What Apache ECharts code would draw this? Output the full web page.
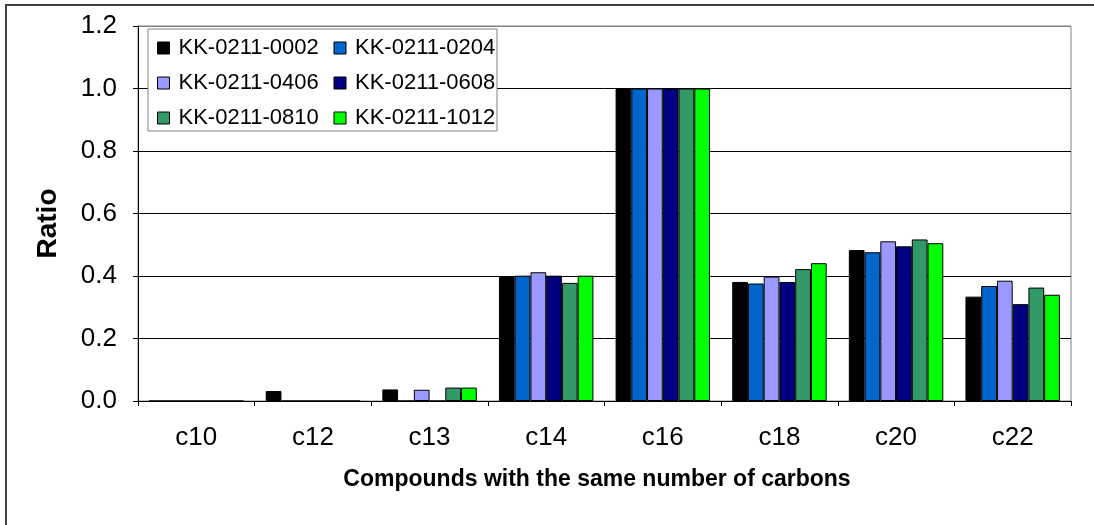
<!DOCTYPE html>
<html>
<head>
<meta charset="utf-8">
<script src="https://cdn.jsdelivr.net/npm/echarts@6/dist/echarts.min.js"></script>
<style>
html,body{margin:0;padding:0;background:#fff;}
#chart{width:1094px;height:525px;}
</style>
</head>
<body>
<div id="chart"></div>
<script>
const categories = ['c10', 'c12', 'c13', 'c14', 'c16', 'c18', 'c20', 'c22'];
const seriesNames = ['KK-0211-0002', 'KK-0211-0204', 'KK-0211-0406', 'KK-0211-0608', 'KK-0211-0810', 'KK-0211-1012'];
const s0002 = [0, 0.032, 0.037, 0.397, 1.0, 0.381, 0.483, 0.334];
const s0204 = [0, 0, 0, 0.401, 1.0, 0.376, 0.476, 0.368];
const s0406 = [0, 0, 0.036, 0.412, 1.0, 0.398, 0.511, 0.385];
const s0608 = [0, 0, 0, 0.401, 1.0, 0.381, 0.495, 0.310];
const s0810 = [0, 0, 0.043, 0.378, 1.0, 0.422, 0.517, 0.363];
const s1012 = [0, 0, 0.043, 0.401, 1.0, 0.441, 0.505, 0.340];
const yTicks = [0, 0.2, 0.4, 0.6, 0.8, 1.0, 1.2];

const seriesData = [s0002, s0204, s0406, s0608, s0810, s1012];
const colors = ['#000000', '#0066CC', '#9999FF', '#000080', '#339966', '#00FF00'];
const FONT = 'Arial, "Liberation Sans", sans-serif';

const chart = echarts.init(document.getElementById('chart'), null, {renderer: 'canvas'});
chart.setOption({
  animation: false,
  backgroundColor: '#ffffff',
  color: colors,
  textStyle: {fontFamily: FONT},
  grid: {left: 138, top: 26, right: 23, bottom: 124, show: true, borderColor: '#808080', borderWidth: 1, backgroundColor: '#ffffff'},
  legend: {
    left: 148, top: 29, width: 350,
    orient: 'horizontal',
    padding: [8, 0, 2, 9],
    itemGap: 13,
    itemWidth: 12, itemHeight: 12,
    icon: 'rect',
    backgroundColor: '#ffffff',
    borderColor: '#808080', borderWidth: 1,
    itemStyle: {borderColor: '#000', borderWidth: 1},
    textStyle: {fontFamily: FONT, fontSize: 22, color: '#000', width: 142, height: 20, lineHeight: 20, overflow: 'none', padding: [0, 0, 0, 4]},
    data: seriesNames
  },
  xAxis: {
    type: 'category',
    data: categories,
    name: 'Compounds with the same number of carbons',
    nameLocation: 'middle',
    nameGap: 67,
    nameTextStyle: {fontFamily: FONT, fontSize: 23, fontWeight: 'bold', color: '#000', padding: [0, 15, 0, 0]},
    axisLine: {lineStyle: {color: '#000', width: 1}},
    axisTick: {show: true, length: 5, inside: false, lineStyle: {color: '#000'}},
    axisLabel: {fontFamily: FONT, fontSize: 26, color: '#000', margin: 24}
  },
  yAxis: {
    type: 'value',
    min: 0, max: 1.2, interval: 0.2,
    name: 'Ratio',
    nameLocation: 'middle',
    nameGap: 76,
    nameRotate: 90,
    nameTextStyle: {fontFamily: FONT, fontSize: 28, fontWeight: 'bold', color: '#000', padding: [0, 20, 0, 0]},
    axisLine: {show: true, lineStyle: {color: '#000', width: 1}},
    axisTick: {show: true, length: 5, inside: false, lineStyle: {color: '#000'}},
    axisLabel: {fontFamily: FONT, fontSize: 26, color: '#000', margin: 21, formatter: v => v.toFixed(1)},
    splitLine: {show: true, lineStyle: {color: ['#000', '#000', '#000', '#000', '#000', '#000', '#808080'], width: 1}}
  },
  graphic: [
    {type: 'line', shape: {x1: 5, y1: 5, x2: 1094, y2: 5}, style: {stroke: '#404040', lineWidth: 2}, z: 100},
    {type: 'line', shape: {x1: 6, y1: 4, x2: 6, y2: 525}, style: {stroke: '#404040', lineWidth: 2}, z: 100}
  ],
  series: seriesNames.map((n, i) => ({
    name: n,
    type: 'bar',
    data: seriesData[i],
    barGap: '0%',
    barCategoryGap: '19%',
    itemStyle: {color: colors[i], borderColor: '#000', borderWidth: 1}
  }))
});
</script>
</body>
</html>
